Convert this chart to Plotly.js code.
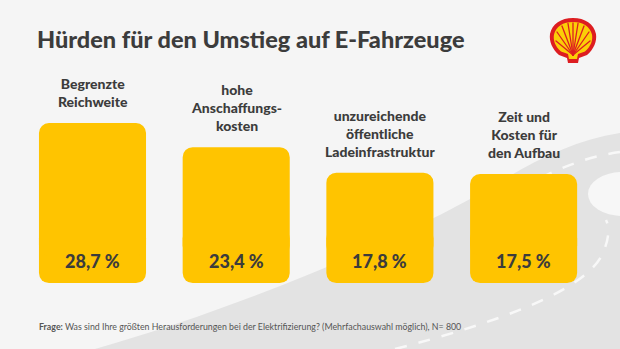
<!DOCTYPE html>
<html>
<head>
<meta charset="utf-8">
<script src="https://cdn.plot.ly/plotly-3.0.1.min.js"></script>
<style>html,body{margin:0;padding:0;background:#f5f5f5;}#chart{width:620px;height:349px;}</style>
</head>
<body>
<div id="chart"></div>
<script>
// ---- data ----
const categories = ["Begrenzte<br>Reichweite", "hohe<br>Anschaffungs-<br>kosten", "unzureichende<br>öffentliche<br>Ladeinfrastruktur", "Zeit und<br>Kosten für<br>den Aufbau"];
const keys = ["A", "B", "C", "D"];
const values = [28.7, 23.4, 17.8, 17.5];
const titleText = "Hürden für den Umstieg auf E-Fahrzeuge";
const footerText = "<b>Frage:</b> Was sind Ihre größten Herausforderungen bei der Elektrifizierung? (Mehrfachauswahl möglich), N= 800";

// ---- styling ----
const BASE = -6.45;
const BAR = "#ffc400";
const TXT = "#3c3c3c";
const FONT = "Lato, 'Noto Sans', sans-serif";

// bottom piece (rounded at the bottom) + top piece (rounded at the top)
const lower = {
  type: "bar", x: keys, y: values.map(() => -12), base: values.map(() => BASE + 12),
  width: 0.745, marker: {color: BAR, cornerradius: 10, line: {width: 0}},
  hoverinfo: "skip", showlegend: false
};
const upper = {
  type: "bar", x: keys, y: values.map(v => v - BASE - 6), base: values.map(() => BASE + 6),
  width: 0.745, marker: {color: BAR, cornerradius: 10, line: {width: 0}},
  hoverinfo: "skip", showlegend: false
};

const bg = `<svg xmlns='http://www.w3.org/2000/svg' viewBox='0 0 620 349' width='620' height='349' preserveAspectRatio='none'>
<rect width='620' height='349' fill='#f5f5f5'/>
<path d='M95,349 C250,305 410,235 495,185 C535,160 575,140 620,133 L620,349 Z' fill='#e3e3e3'/>
<ellipse cx='622' cy='194' rx='34' ry='22' fill='#f7f7f7'/>
<path d='M520,190 C555,168 590,156 620,152' stroke='#f8f8f8' stroke-width='2.5' stroke-dasharray='12 12' fill='none'/>
<path d='M395,349 C500,322 585,290 602,255 C609,240 610,228 606,220' stroke='#f8f8f8' stroke-width='2.5' stroke-dasharray='12 12' fill='none'/>
<g transform='translate(549,17)'>
<path d='M24,46 L19,46 L18,41 L10,38 C3,32 0,24 1,17 C3,7 12,1 24,1 C36,1 45,7 47,17 C48,24 45,32 38,38 L30,41 L29,46 Z' fill='#dd1d21'/>
<path d='M20,42 L19,37 L12,34.5 C6,29.5 4,23 5,17.5 C7,9.5 14,5 24,5 C34,5 41,9.5 43,17.5 C44,23 42,29.5 36,34.5 L29,37 L28,42 Z' fill='#fbce07'/>
<g stroke='#dd1d21' stroke-width='1.3' stroke-linecap='round'>
<line x1='24' y1='38' x2='7' y2='24'/>
<line x1='24' y1='38' x2='8' y2='15'/>
<line x1='24' y1='38' x2='13' y2='9'/>
<line x1='24' y1='38' x2='19' y2='6.5'/>
<line x1='24' y1='38' x2='24' y2='6'/>
<line x1='24' y1='38' x2='29' y2='6.5'/>
<line x1='24' y1='38' x2='35' y2='9'/>
<line x1='24' y1='38' x2='40' y2='15'/>
<line x1='24' y1='38' x2='41' y2='24'/>
</g>
</g>
</svg>`;

const annotations = [];
keys.forEach((k, i) => {
  annotations.push({
    x: k, y: values[i], xref: "x", yref: "y", text: categories[i],
    showarrow: false, yanchor: "bottom", yshift: 11,
    font: {family: FONT, size: 14, color: TXT, weight: 900}, align: "center"
  });
  annotations.push({
    x: k, y: BASE, xref: "x", yref: "y",
    text: values[i].toFixed(1).replace(".", ",") + " %",
    showarrow: false, yanchor: "middle", yshift: 22,
    font: {family: FONT, size: 18, color: TXT, weight: 900}
  });
});
annotations.push({
  xref: "paper", yref: "paper", x: 37 / 620, y: 1 - 326 / 349, xanchor: "left", yanchor: "middle",
  text: footerText, showarrow: false, font: {family: FONT, size: 8.8, color: "#555555"}
});

const layout = {
  width: 620, height: 349,
  margin: {l: 0, r: 0, t: 0, b: 0},
  paper_bgcolor: "#f5f5f5", plot_bgcolor: "rgba(0,0,0,0)",
  barmode: "overlay",
  title: {text: titleText, x: 37 / 620, xanchor: "left", y: 1 - 40 / 349, yanchor: "middle",
          font: {family: FONT, size: 23.5, color: TXT, weight: 900}},
  xaxis: {type: "category", range: [-0.6437, 3.6708], visible: false, fixedrange: true},
  yaxis: {range: [-20.92, 55.72], visible: false, fixedrange: true},
  images: [{source: "data:image/svg+xml;charset=utf-8," + encodeURIComponent(bg),
            xref: "paper", yref: "paper", x: 0, y: 1, sizex: 1, sizey: 1,
            xanchor: "left", yanchor: "top", sizing: "stretch", layer: "below"}],
  annotations: annotations,
  showlegend: false
};

Plotly.newPlot("chart", [lower, upper], layout, {staticPlot: true, displayModeBar: false});
</script>
</body>
</html>
